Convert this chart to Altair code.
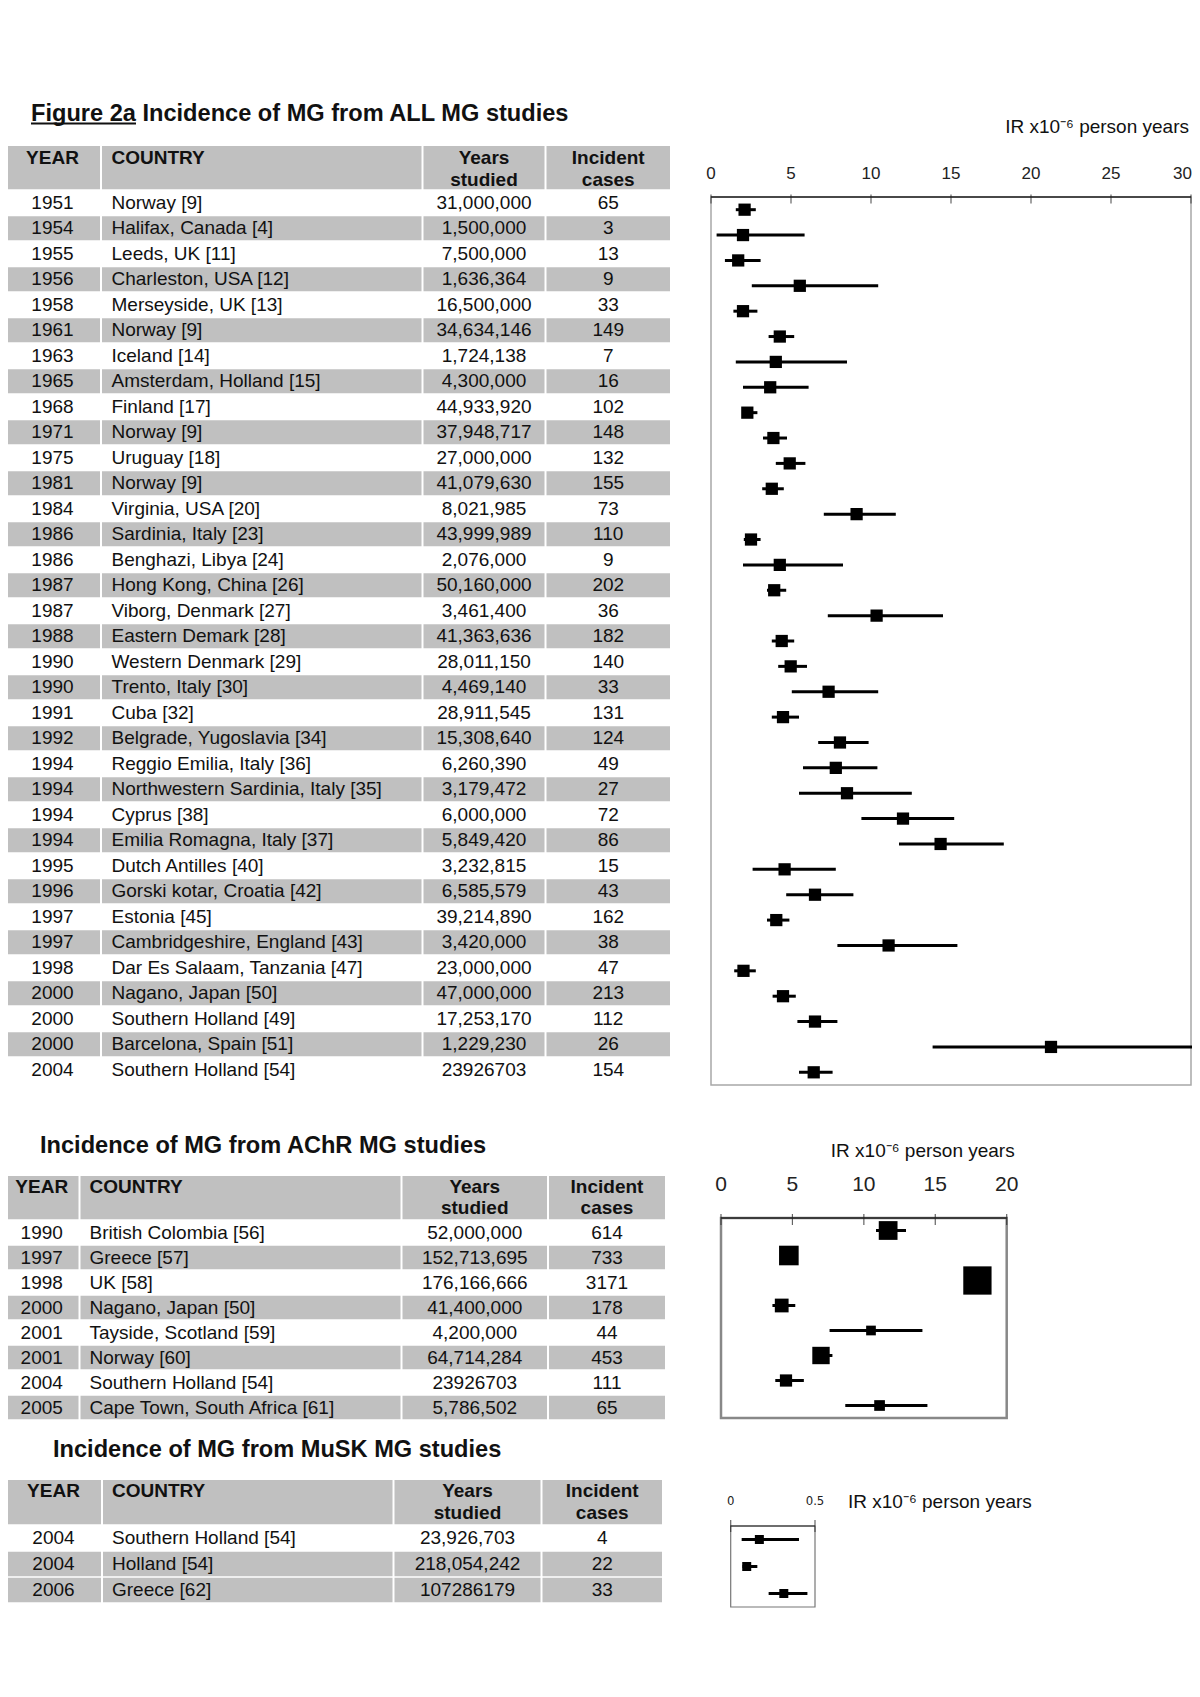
import altair as alt
import pandas as pd

# ---------------- data: ALL MG studies ----------------
all_year = ["1951", "1954", "1955", "1956", "1958", "1961", "1963", "1965", "1968", "1971",
            "1975", "1981", "1984", "1986", "1986", "1987", "1987", "1988", "1990", "1990",
            "1991", "1992", "1994", "1994", "1994", "1994", "1995", "1996", "1997", "1997",
            "1998", "2000", "2000", "2000", "2004"]
all_country = ["Norway [9]", "Halifax, Canada [4]", "Leeds, UK [11]", "Charleston, USA [12]",
               "Merseyside, UK [13]", "Norway [9]", "Iceland [14]", "Amsterdam, Holland [15]",
               "Finland [17]", "Norway [9]", "Uruguay [18]", "Norway [9]", "Virginia, USA [20]",
               "Sardinia, Italy [23]", "Benghazi, Libya [24]", "Hong Kong, China [26]",
               "Viborg, Denmark [27]", "Eastern Demark [28]", "Western Denmark [29]",
               "Trento, Italy [30]", "Cuba [32]", "Belgrade, Yugoslavia [34]",
               "Reggio Emilia, Italy [36]", "Northwestern Sardinia, Italy [35]", "Cyprus [38]",
               "Emilia Romagna, Italy [37]", "Dutch Antilles [40]", "Gorski kotar, Croatia [42]",
               "Estonia [45]", "Cambridgeshire, England [43]", "Dar Es Salaam, Tanzania [47]",
               "Nagano, Japan [50]", "Southern Holland [49]", "Barcelona, Spain [51]",
               "Southern Holland [54]"]
all_studied = ["31,000,000", "1,500,000", "7,500,000", "1,636,364", "16,500,000", "34,634,146",
               "1,724,138", "4,300,000", "44,933,920", "37,948,717", "27,000,000", "41,079,630",
               "8,021,985", "43,999,989", "2,076,000", "50,160,000", "3,461,400", "41,363,636",
               "28,011,150", "4,469,140", "28,911,545", "15,308,640", "6,260,390", "3,179,472",
               "6,000,000", "5,849,420", "3,232,815", "6,585,579", "39,214,890", "3,420,000",
               "23,000,000", "47,000,000", "17,253,170", "1,229,230", "23926703"]
all_cases = ["65", "3", "13", "9", "33", "149", "7", "16", "102", "148", "132", "155", "73", "110",
             "9", "202", "36", "182", "140", "33", "131", "124", "49", "27", "72", "86", "15", "43",
             "162", "38", "47", "213", "112", "26", "154"]
all_ir = [2.1, 2.0, 1.7, 5.55, 2.0, 4.3, 4.05, 3.7, 2.27, 3.9, 4.92, 3.8, 9.1, 2.5, 4.3, 3.95,
          10.35, 4.42, 4.98, 7.35, 4.5, 8.06, 7.8, 8.5, 12.0, 14.35, 4.6, 6.5, 4.08, 11.1, 2.03,
          4.5, 6.5, 21.25, 6.42]
all_lo = [1.55, 0.35, 0.87, 2.55, 1.4, 3.6, 1.55, 2.0, 1.95, 3.25, 4.05, 3.2, 7.05, 2.05, 2.0,
          3.5, 7.3, 3.8, 4.2, 5.05, 3.8, 6.7, 5.75, 5.5, 9.4, 11.75, 2.6, 4.7, 3.5, 7.9, 1.45,
          3.85, 5.4, 13.85, 5.5]
all_hi = [2.8, 5.85, 3.1, 10.45, 2.9, 5.2, 8.5, 6.1, 2.9, 4.75, 5.9, 4.55, 11.55, 3.1, 8.25,
          4.7, 14.5, 5.2, 6.0, 10.45, 5.5, 9.85, 10.4, 12.55, 15.2, 18.3, 7.8, 8.9, 4.9, 15.4,
          2.8, 5.3, 7.9, 30.3, 7.6]

# ---------------- data: AChR MG studies ----------------
achr_year = ["1990", "1997", "1998", "2000", "2001", "2001", "2004", "2005"]
achr_country = ["British Colombia [56]", "Greece [57]", "UK [58]", "Nagano, Japan [50]",
                "Tayside, Scotland [59]", "Norway [60]", "Southern Holland [54]",
                "Cape Town, South Africa [61]"]
achr_studied = ["52,000,000", "152,713,695", "176,166,666", "41,400,000", "4,200,000",
                "64,714,284", "23926703", "5,786,502"]
achr_cases = ["614", "733", "3171", "178", "44", "453", "111", "65"]
achr_ir = [11.7, 4.75, 17.95, 4.25, 10.5, 7.0, 4.55, 11.1]
achr_lo = [10.85, 4.45, 17.4, 3.6, 7.6, 6.45, 3.8, 8.7]
achr_hi = [12.95, 5.1, 18.6, 5.2, 14.1, 7.8, 5.8, 14.45]

# ---------------- data: MuSK MG studies ----------------
musk_year = ["2004", "2004", "2006"]
musk_country = ["Southern Holland [54]", "Holland [54]", "Greece [62]"]
musk_studied = ["23,926,703", "218,054,242", "107286179"]
musk_cases = ["4", "22", "33"]
musk_ir = [0.17, 0.095, 0.315]
musk_lo = [0.065, 0.07, 0.225]
musk_hi = [0.405, 0.158, 0.455]

# ---------------- layout ----------------
OFF = 8          # page margin
W, H = 1184, 1630
GRAY = "#c0c0c0"
FONT = "Liberation Sans, Arial, sans-serif"
IR_TITLE = "IR x10\u207b\u2076 person years"


def sx():
    return alt.Scale(domain=[0, W], range=[0, W], nice=False, zero=False)


def sy():
    return alt.Scale(domain=[0, H], range=[0, H], nice=False, zero=False)


cells, txt_c, txt_l, hdr_c, hdr_l = [], [], [], [], []


def add_table(years, countries, studied, cases, shaded, top, head_h, row_h, edges, pad, l1, l2):
    gap, vgap = 2.0, 1.5

    def cx(j, clamp=True):
        e0 = edges[j] + (gap / 2 if j > 0 else 0)
        e1 = edges[j + 1] - (gap / 2 if j < 3 else 0)
        if clamp:
            e0 = max(e0, OFF)
        return e0 - OFF, e1 - OFF

    def mid(j):
        a, b = cx(j, clamp=False)
        return (a + b) / 2

    for j in range(4):
        x0, x1 = cx(j)
        cells.append(dict(x=x0, x2=x1, y=top - OFF, y2=top + head_h - vgap / 2 - OFF))
    hdr_c.append(dict(x=mid(0), y=top + l1 - OFF, t="YEAR"))
    hdr_l.append(dict(x=cx(1)[0] + pad, y=top + l1 - OFF, t="COUNTRY"))
    hdr_c.extend([dict(x=mid(2), y=top + l1 - OFF, t="Years"),
                  dict(x=mid(2), y=top + l2 - OFF, t="studied"),
                  dict(x=mid(3), y=top + l1 - OFF, t="Incident"),
                  dict(x=mid(3), y=top + l2 - OFF, t="cases")])
    body = top + head_h
    for i in range(len(years)):
        r0 = body + i * row_h
        yc = r0 + row_h / 2 - OFF
        if shaded[i]:
            for j in range(4):
                x0, x1 = cx(j)
                cells.append(dict(x=x0, x2=x1, y=r0 + vgap / 2 - OFF, y2=r0 + row_h - vgap / 2 - OFF))
        txt_c.append(dict(x=mid(0), y=yc, t=years[i]))
        txt_l.append(dict(x=cx(1)[0] + pad, y=yc, t=countries[i]))
        txt_c.append(dict(x=mid(2), y=yc, t=studied[i]))
        txt_c.append(dict(x=mid(3), y=yc, t=cases[i]))


add_table(all_year, all_country, all_studied, all_cases, [i % 2 == 1 for i in range(len(all_year))],
          top=146, head_h=44, row_h=25.5, edges=[5, 101, 422.5, 545.5, 670], pad=9.5, l1=11.5, l2=34)
add_table(achr_year, achr_country, achr_studied, achr_cases, [i % 2 == 1 for i in range(len(achr_year))],
          top=1176, head_h=44, row_h=25, edges=[5, 79.5, 401.5, 548, 665], pad=9, l1=11, l2=32)
add_table(musk_year, musk_country, musk_studied, musk_cases, [False, True, True],
          top=1480, head_h=45, row_h=26, edges=[6, 102, 393.5, 541.5, 662], pad=9, l1=11, l2=33)


def text_layer(rows, align, weight, size, color="#111111"):
    return alt.Chart(pd.DataFrame(rows)).mark_text(
        align=align, baseline="middle", font=FONT, fontSize=size, fontWeight=weight, color=color
    ).encode(x=alt.X("x:Q", scale=sx(), axis=None), y=alt.Y("y:Q", scale=sy(), axis=None), text="t:N")


layers = [
    alt.Chart(pd.DataFrame(cells)).mark_rect(color=GRAY).encode(
        x=alt.X("x:Q", scale=sx(), axis=None), x2="x2:Q",
        y=alt.Y("y:Q", scale=sy(), axis=None), y2="y2:Q"),
    text_layer(txt_c, "center", "normal", 19),
    text_layer(txt_l, "left", "normal", 19),
    text_layer(hdr_c, "center", "bold", 19),
    text_layer(hdr_l, "left", "bold", 19),
]

# section titles
titles = [dict(x=31 - OFF, y=113.5 - OFF, t="Figure 2a Incidence of MG from ALL MG studies"),
          dict(x=40 - OFF, y=1145.8 - OFF, t="Incidence of MG from AChR MG studies"),
          dict(x=53 - OFF, y=1450.3 - OFF, t="Incidence of MG from MuSK MG studies")]
layers.append(text_layer(titles, "left", "bold", 23.6, "#111111"))
underline = pd.DataFrame(dict(x=[31 - OFF], x2=[136 - OFF], y=[123.5 - OFF]))
layers.append(alt.Chart(underline).mark_rule(color="#111111", strokeWidth=2).encode(
    x=alt.X("x:Q", scale=sx(), axis=None), x2="x2:Q", y=alt.Y("y:Q", scale=sy(), axis=None)))


def forest(ir, lo, hi, cases, xdom, xr, yr, tick_vals, tick_text, frame_color, frame_w,
           axis_w, tick_len, tick_off, lab_size, lab_dy, title_at, title_align, title_dx, title_dy,
           sq_size=None, size_scale=None, lab_font=FONT, last_label_right=False):
    n = len(ir)
    fx = alt.Scale(domain=xdom, range=[xr[0] - OFF, xr[1] - OFF], nice=False, zero=False)
    fy = alt.Scale(domain=[-0.5, n - 0.5], range=[yr[0] - OFF, yr[1] - OFF], nice=False, zero=False)

    def X(f):
        return alt.X(f, scale=fx, axis=None)

    def Y(f):
        return alt.Y(f, scale=fy, axis=None)

    df = pd.DataFrame(dict(i=list(range(n)), ir=ir, lo=lo, hi=hi, c=[int(c) for c in cases]))
    box = pd.DataFrame(dict(x0=[xdom[0]], x1=[xdom[1]], y0=[-0.5], y1=[n - 0.5]))
    tk = pd.DataFrame(dict(v=tick_vals, t=tick_text, y=[-0.5] * len(tick_vals)))
    ttl = pd.DataFrame(dict(v=[title_at], y=[-0.5], t=[IR_TITLE]))
    lab_mid = tk.iloc[:-1] if last_label_right else tk
    out = [
        alt.Chart(box).mark_rect(fill="white", stroke=frame_color, strokeWidth=frame_w).encode(
            x=X("x0:Q"), x2="x1:Q", y=Y("y0:Q"), y2="y1:Q"),
        alt.Chart(box).mark_rule(color="#222222", strokeWidth=axis_w).encode(
            x=X("x0:Q"), x2="x1:Q", y=Y("y0:Q")),
        alt.Chart(tk).mark_tick(orient="vertical", size=tick_len, thickness=1.2, color="#222222",
                                yOffset=tick_off).encode(x=X("v:Q"), y=Y("y:Q")),
        alt.Chart(lab_mid).mark_text(font=lab_font, fontSize=lab_size, color="#222222",
                                     baseline="middle", dy=lab_dy).encode(
            x=X("v:Q"), y=Y("y:Q"), text="t:N"),
        alt.Chart(ttl).mark_text(font=FONT, fontSize=19, color="#111111", baseline="middle",
                                 align=title_align, dx=title_dx, dy=title_dy).encode(
            x=X("v:Q"), y=Y("y:Q"), text="t:N"),
        alt.Chart(df).mark_rule(color="black", strokeWidth=3).encode(x=X("lo:Q"), x2="hi:Q", y=Y("i:Q")),
    ]
    if last_label_right:
        out.append(alt.Chart(tk.iloc[-1:]).mark_text(
            font=lab_font, fontSize=lab_size, color="#222222", baseline="middle", align="right",
            dx=1, dy=lab_dy).encode(x=X("v:Q"), y=Y("y:Q"), text="t:N"))
    if size_scale is not None:
        out.append(alt.Chart(df).mark_square(color="black", opacity=1).encode(
            x=X("ir:Q"), y=Y("i:Q"),
            size=alt.Size("c:Q", scale=size_scale, legend=None)))
    else:
        out.append(alt.Chart(df).mark_square(color="black", opacity=1, size=sq_size).encode(
            x=X("ir:Q"), y=Y("i:Q")))
    return out


layers += forest(all_ir, all_lo, all_hi, all_cases, [0, 30], [711, 1191], [197, 1085],
                 [0, 5, 10, 15, 20, 25, 30], ["0", "5", "10", "15", "20", "25", "30"],
                 frame_color="#a8a8a8", frame_w=1.5, axis_w=1.3, tick_len=9, tick_off=2,
                 lab_size=17, lab_dy=-23, title_at=30, title_align="right", title_dx=-2,
                 title_dy=-70, sq_size=150, last_label_right=True)
layers += forest(achr_ir, achr_lo, achr_hi, achr_cases, [0, 20], [721, 1006.7], [1218, 1418],
                 [0, 5, 10, 15, 20], ["0", "5", "10", "15", "20"],
                 frame_color="#888888", frame_w=2.5, axis_w=1.5, tick_len=11, tick_off=1.5,
                 lab_size=21, lab_dy=-33, title_at=20, title_align="right", title_dx=8,
                 title_dy=-67,
                 size_scale=alt.Scale(type="sqrt", domain=[0, 3171], range=[0, 800]))
layers += forest(musk_ir, musk_lo, musk_hi, musk_cases, [0, 0.5], [730.7, 815], [1526, 1607],
                 [0, 0.5], ["0", "0.5"],
                 frame_color="#777777", frame_w=1.2, axis_w=1.2, tick_len=12, tick_off=0,
                 lab_size=13, lab_dy=-25, title_at=0.5, title_align="left", title_dx=33,
                 title_dy=-24, sq_size=81,
                 lab_font="Liberation Sans Narrow, DejaVu Sans Condensed, sans-serif")

chart = alt.layer(*layers).resolve_scale(
    x="independent", y="independent", size="independent"
).properties(
    width=W, height=H, padding=0, autosize=alt.AutoSizeParams(type="none"), background="white"
).configure_view(stroke=None)

chart.save("out.html", embed_options={"renderer": "svg", "actions": False})
